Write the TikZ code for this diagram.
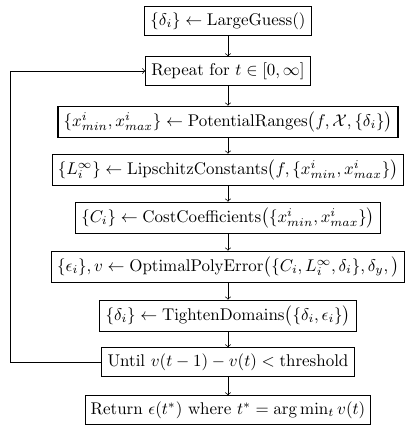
\documentclass[tikz,border=0pt]{standalone}
\usepackage{amsmath}
\begin{document}
\begin{tikzpicture}[x=0.59pt,y=-0.59pt,
  stepbox/.style={draw,semithick,inner sep=3.3pt,anchor=center},
  link/.style={->,thin}]
\useasboundingbox (0,0) rectangle (405,426);
\node[stepbox] (guess) at (228,21) {$\{\delta_i\} \leftarrow \mathrm{LargeGuess}()$};
\node[stepbox] (repeat) at (228,71) {Repeat for $t \in [0,\infty]$};
\node[stepbox] (ranges) at (228,122) {$\{x^i_{min}, x^i_{max}\} \leftarrow \mathrm{PotentialRanges}\big(f,\mathcal{X},\{\delta_i\}\big)$};
\node[stepbox] (lip) at (228,170) {$\{L_i^\infty\} \leftarrow \mathrm{LipschitzConstants}\big(f,\{x^i_{min}, x^i_{max}\}\big)$};
\node[stepbox] (cost) at (228,218) {$\{C_i\} \leftarrow \mathrm{CostCoefficients}\big(\{x^i_{min}, x^i_{max}\}\big)$};
\node[stepbox] (opt) at (228,267) {$\{\epsilon_i\}, v \leftarrow \mathrm{OptimalPolyError}\big(\{C_i, L_i^\infty, \delta_i\}, \delta_y,\big)$};
\node[stepbox] (tight) at (228,316) {$\{\delta_i\} \leftarrow \mathrm{TightenDomains}\big(\{\delta_i, \epsilon_i\}\big)$};
\node[stepbox] (until) at (228,362) {Until $v(t-1) - v(t) < \mathrm{threshold}$};
\node[stepbox] (ret) at (228,410) {Return $\epsilon(t^*)$ where $t^* = \arg\min_t v(t)$};
\coordinate (lp) at (10,0);
\draw[link] (guess) -- (repeat);
\draw[link] (repeat) -- (ranges);
\draw[link] (ranges) -- (lip);
\draw[link] (lip) -- (cost);
\draw[link] (cost) -- (opt);
\draw[link] (opt) -- (tight);
\draw[link] (tight) -- (until);
\draw[link] (until) -- (ret);
\draw[link] (until.west) -- (until.west -| lp) |- (repeat.west);
\end{tikzpicture}
\end{document}
